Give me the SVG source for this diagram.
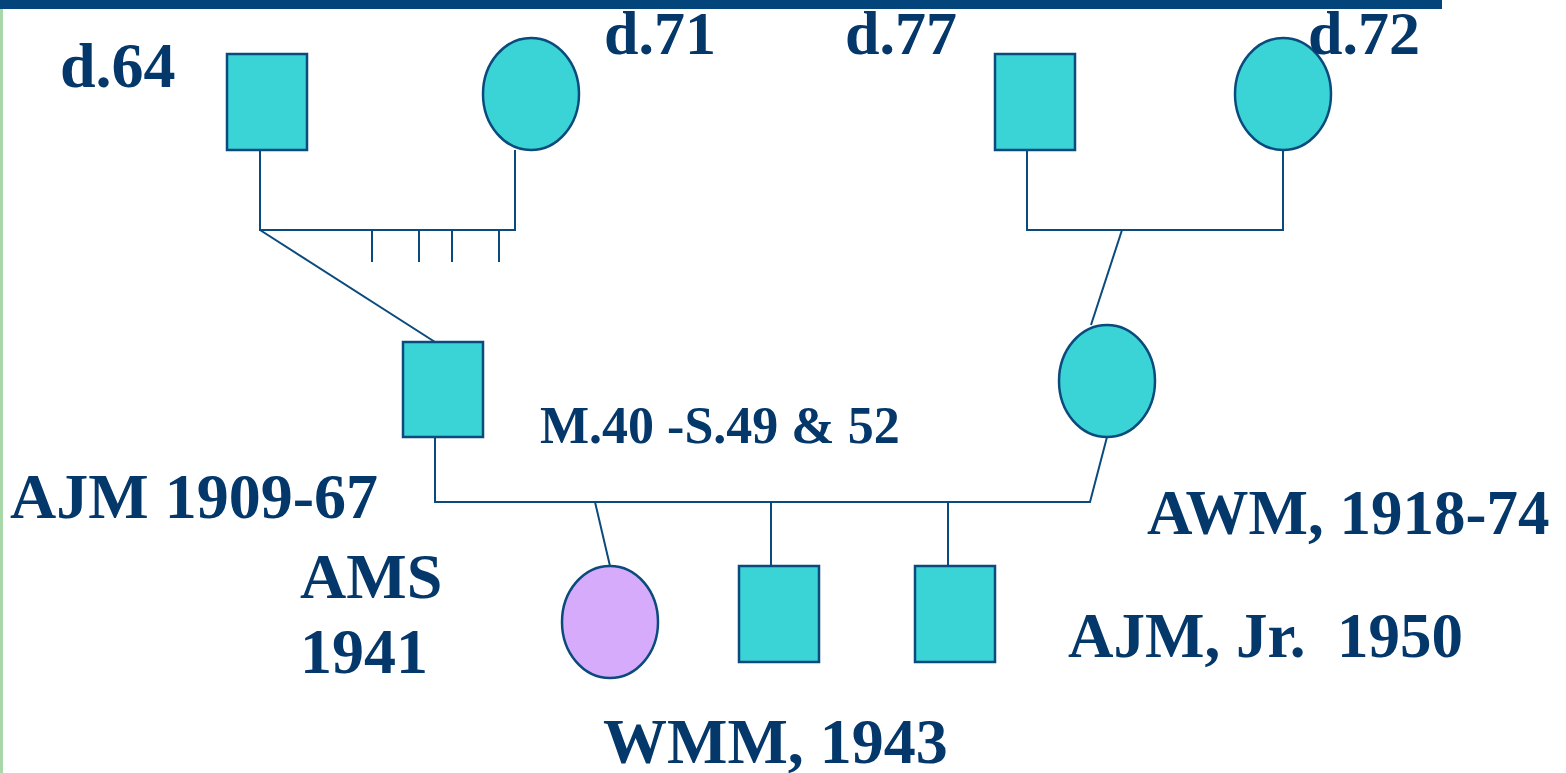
<svg xmlns="http://www.w3.org/2000/svg" width="1566" height="773" viewBox="0 0 1566 773">
<style>
.sq{fill:#3AD4D6;stroke:#0B4A7C;stroke-width:2.5}
.ci{fill:#3AD4D6;stroke:#0B4A7C;stroke-width:2.5}
.pu{fill:#D6ABFB;stroke:#0B4A7C;stroke-width:2.5}
.ln{stroke:#0B4A7C;stroke-width:2;fill:none}
.t{font-family:"Liberation Serif","Times New Roman",serif;font-weight:bold;fill:#04376A}
</style>
<rect x="0" y="0" width="1566" height="773" fill="#FFFFFF"/>
<rect x="0" y="9" width="3" height="764" fill="#A8D8A8"/>
<g id="connectors">
<path class="ln" d="M260 150 V230 H515 V150"/>
<path class="ln" d="M372 230 V262 M419 230 V262 M452 230 V262 M499 230 V262"/>
<path class="ln" d="M260 230 L435 342"/>
<path class="ln" d="M1027 150 V230 H1283 V150"/>
<path class="ln" d="M1122 230 L1091 325"/>
<path class="ln" d="M435 437 V502 H1090 L1107 437"/>
<path class="ln" d="M595 502 L610 566"/>
<path class="ln" d="M771 502 V566"/>
<path class="ln" d="M948 502 V566"/>
</g>
<g id="gf1"><rect class="sq" x="227" y="54" width="80" height="96"/><text class="t" x="60" y="87" font-size="64">d.64</text></g>
<g id="gm1"><ellipse class="ci" cx="531" cy="94" rx="48" ry="56"/><text class="t" x="604" y="54" font-size="62">d.71</text></g>
<g id="gf2"><rect class="sq" x="995" y="54" width="80" height="96"/><text class="t" x="845" y="54" font-size="62">d.77</text></g>
<g id="gm2"><ellipse class="ci" cx="1283" cy="94" rx="48" ry="56"/><text class="t" x="1308" y="54" font-size="62">d.72</text></g>
<g id="ajm"><rect class="sq" x="403" y="342" width="80" height="95"/><text class="t" x="10" y="518" font-size="64">AJM 1909-67</text></g>
<g id="awm"><ellipse class="ci" cx="1107" cy="381" rx="48" ry="56"/><text class="t" x="1147" y="534" font-size="63">AWM, 1918-74</text></g>
<g id="marriage"><text class="t" x="540" y="443" font-size="52">M.40 -S.49 &amp; 52</text></g>
<g id="ams"><text class="t" x="300" y="598" font-size="64">AMS</text><text class="t" x="300" y="673" font-size="64">1941</text></g>
<g id="wmm"><ellipse class="pu" cx="610" cy="622" rx="48" ry="56"/><text class="t" x="603" y="763" font-size="64">WMM, 1943</text></g>
<g id="son1"><rect class="sq" x="739" y="566" width="80" height="96"/></g>
<g id="ajmjr"><rect class="sq" x="915" y="566" width="80" height="96"/><text class="t" x="1068" y="657" font-size="63" xml:space="preserve" style="white-space:pre">AJM, Jr.  1950</text></g>
<rect x="0" y="0" width="1442" height="9" fill="#03457A"/>
</svg>
